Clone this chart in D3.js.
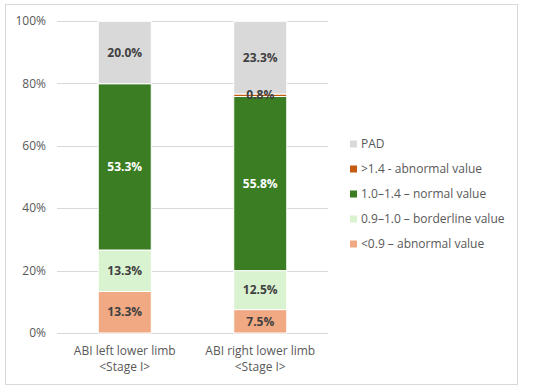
<!DOCTYPE html>
<html><head><meta charset="utf-8">
<script src="https://cdn.jsdelivr.net/npm/d3@7"></script>
<style>body{margin:0;background:#fff}svg{display:block}</style>
</head><body>
<svg id="c" width="550" height="390"></svg>
<script>
const categories = [["ABI left lower limb", "<Stage I>"], ["ABI right lower limb", "<Stage I>"]];
const seriesNames = ["<0.9 – abnormal value", "0.9–1.0 – borderline value", "1.0–1.4 – normal value", ">1.4 - abnormal value", "PAD"];
const seriesColors = ["#F1A983", "#D9F2D0", "#3A7D22", "#C55A11", "#D9D9D9"];
const labelColors = ["#404040", "#404040", "#ffffff", "#404040", "#404040"];
const abnormalLow = [13.3, 7.5];
const borderline = [13.3, 12.5];
const normal = [53.3, 55.8];
const abnormalHigh = [0, 0.8];
const pad = [20.0, 23.3];
const yTicks = [0, 20, 40, 60, 80, 100];

const series = [abnormalLow, borderline, normal, abnormalHigh, pad];
const svg = d3.select("#c");
const font = "'Open Sans', 'Noto Sans', sans-serif";

svg.append("rect").attr("x", 5.5).attr("y", 4.5).attr("width", 512).attr("height", 380)
  .attr("fill", "#fff").attr("stroke", "#D9D9D9").attr("stroke-width", 1);

const x = d3.scaleBand().domain(d3.range(categories.length)).range([57, 328]).paddingInner(0).paddingOuter(0);
const y = d3.scaleLinear().domain([0, 100]).range([333, 21]);
const bw = 53;

// gridlines
svg.append("g").selectAll("line").data(yTicks).join("line")
  .attr("x1", 57).attr("x2", 328)
  .attr("y1", d => Math.round(y(d)) + 0.5).attr("y2", d => Math.round(y(d)) + 0.5)
  .attr("stroke", "#D9D9D9").attr("stroke-width", 1);

// y axis labels
svg.append("g").selectAll("text").data(yTicks).join("text")
  .attr("x", 46).attr("y", d => y(d)).attr("dy", "0.35em")
  .attr("text-anchor", "end").attr("font-family", font).attr("font-size", 12)
  .attr("fill", "#595959").text(d => d + "%");

// stack
const stackData = categories.map((c, i) => {
  const o = {i};
  series.forEach((s, k) => o[k] = s[i]);
  return o;
});
const stacked = d3.stack().keys(d3.range(series.length))(stackData);

const g = svg.append("g");
stacked.forEach((layer, k) => {
  layer.forEach((d, i) => {
    if (d[1] - d[0] <= 0) return;
    const cx = x(i) + x.bandwidth() / 2;
    g.append("rect").attr("x", cx - bw / 2).attr("y", y(d[1]))
      .attr("width", bw).attr("height", y(d[0]) - y(d[1]))
      .attr("fill", seriesColors[k]).attr("stroke", "#fff").attr("stroke-width", 1);
  });
});
stacked.forEach((layer, k) => {
  layer.forEach((d, i) => {
    if (d[1] - d[0] <= 0) return;
    const cx = x(i) + x.bandwidth() / 2;
    g.append("text").attr("x", cx).attr("y", (y(d[0]) + y(d[1])) / 2).attr("dy", "0.35em")
      .attr("text-anchor", "middle").attr("font-family", font).attr("font-size", 12)
      .attr("font-weight", "bold").attr("fill", labelColors[k])
      .text(series[k][i].toFixed(1) + "%");
  });
});

// x labels
categories.forEach((c, i) => {
  const cx = x(i) + x.bandwidth() / 2;
  c.forEach((line, j) => {
    svg.append("text").attr("x", cx).attr("y", 351 + j * 16).attr("dy", "0.35em")
      .attr("text-anchor", "middle").attr("font-family", font).attr("font-size", 12)
      .attr("fill", "#595959").text(line);
  });
});

// legend (reverse order: PAD on top)
const legendOrder = d3.range(series.length).reverse();
const lg = svg.append("g");
legendOrder.forEach((k, r) => {
  const ly = 144 + r * 25;
  lg.append("rect").attr("x", 350).attr("y", ly - 3.5).attr("width", 7).attr("height", 7)
    .attr("fill", seriesColors[k]);
  lg.append("text").attr("x", 361).attr("y", ly).attr("dy", "0.35em")
    .attr("font-family", font).attr("font-size", 12).attr("fill", "#595959").text(seriesNames[k]);
});
</script>
</body></html>
